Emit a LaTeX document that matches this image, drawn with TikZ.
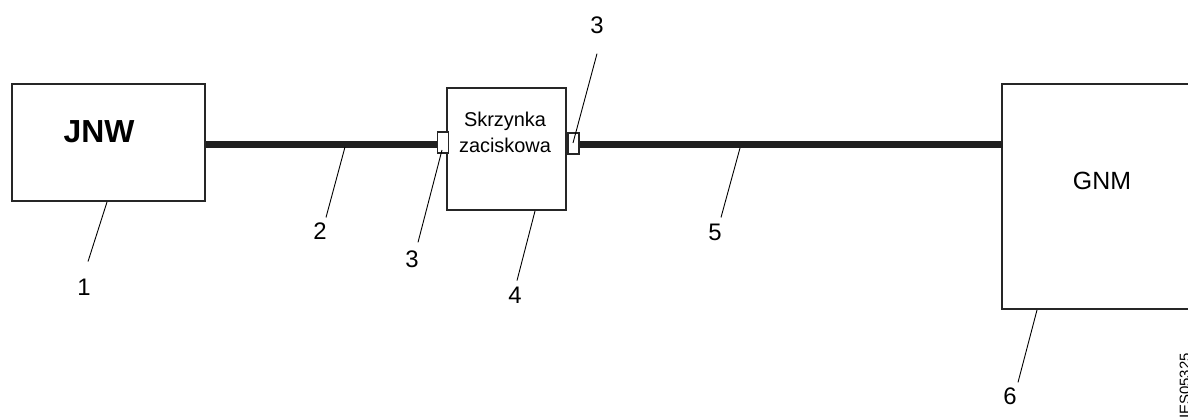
\documentclass[tikz,border=0pt]{standalone}
\usepackage{fontspec}
\setmainfont{Liberation Sans}
\usetikzlibrary{calc}

\begin{document}
\begin{tikzpicture}[line join=miter,
  unit/.style={draw=black!85,line width=2bp,inner sep=0pt},
  clamp/.style={draw=black!85,fill=white,line width=1.8bp,minimum width=11bp,minimum height=21bp,inner sep=0pt},
  cable/.style={line width=7bp,black!88},
  leader/.style={line width=0.9bp},
  num/.style={inner sep=0pt,font=\fontsize{24}{24}\selectfont}]
%%
  \path[use as bounding box] (0bp,0bp) rectangle (1188bp,419bp);
  \node (jnw) at (108.5bp,276.5bp) [unit,minimum width=193bp,minimum height=117bp] {};
  \node (jnwtxt) at (99bp,287bp) [inner sep=0pt,font=\bfseries\fontsize{32}{32}\selectfont] {JNW};
  \node (term) at (506.5bp,270bp) [unit,minimum width=119bp,minimum height=122bp] {};
  \node (termtxt) at (505bp,287bp) [inner sep=0pt,align=center,font=\fontsize{20}{26}\selectfont] {Skrzynka\\zaciskowa};
  \node (gnm) at (1151bp,222.5bp) [unit,minimum width=298bp,minimum height=225bp] {};
  \node (gnmtxt) at (1102bp,238bp) [inner sep=0pt,font=\fontsize{25}{25}\selectfont] {GNM};
  \draw [cable] ([yshift=-2bp]jnw.east) -- (443bp,274.5bp);
  \draw [cable] (573.5bp,274.5bp) -- (1003bp,274.5bp);
  \node (clampL) at (443bp,276.5bp) [clamp] {};
  \node (clampR) at (573.5bp,275.5bp) [clamp] {};
  % labels
  \node (n1) at (84bp,132bp) [num] {1};
  \node (n2) at (320bp,188bp) [num] {2};
  \node (n3a) at (412bp,160bp) [num] {3};
  \node (n3b) at (597bp,394bp) [num] {3};
  \node (n4) at (515bp,124bp) [num] {4};
  \node (n5) at (715bp,187bp) [num] {5};
  \node (n6) at (1010bp,23bp) [num] {6};
  \node (figid) at (1190bp,66bp) [rotate=90,anchor=base east,inner sep=0pt,font=\fontsize{15}{15}\selectfont] {IES05325};
  % leader ends
  \coordinate (c2) at (345bp,272bp);
  \coordinate (c3a) at (442bp,269bp);
  \coordinate (c3b) at (573bp,276bp);
  \coordinate (c5) at (740bp,271bp);
  \draw [leader] ([xshift=-1.5bp]jnw.south) -- ($(n1.north)+(4bp,17bp)$);
  \draw [leader] (c2) -- ($(n2.north)+(6bp,5bp)$);
  \draw [leader] (c3a) -- ($(n3a.north)+(6bp,8bp)$);
  \draw [leader] (c3b) -- ($(n3b.south)+(0bp,-20bp)$);
  \draw [leader] ([xshift=28.5bp]term.south) -- ($(n4.north)+(2bp,6bp)$);
  \draw [leader] (c5) -- ($(n5.north)+(6bp,6bp)$);
  \draw [leader] ([xshift=-114bp]gnm.south) -- ($(n6.north)+(8bp,5bp)$);
%
\end{tikzpicture}
\end{document}
